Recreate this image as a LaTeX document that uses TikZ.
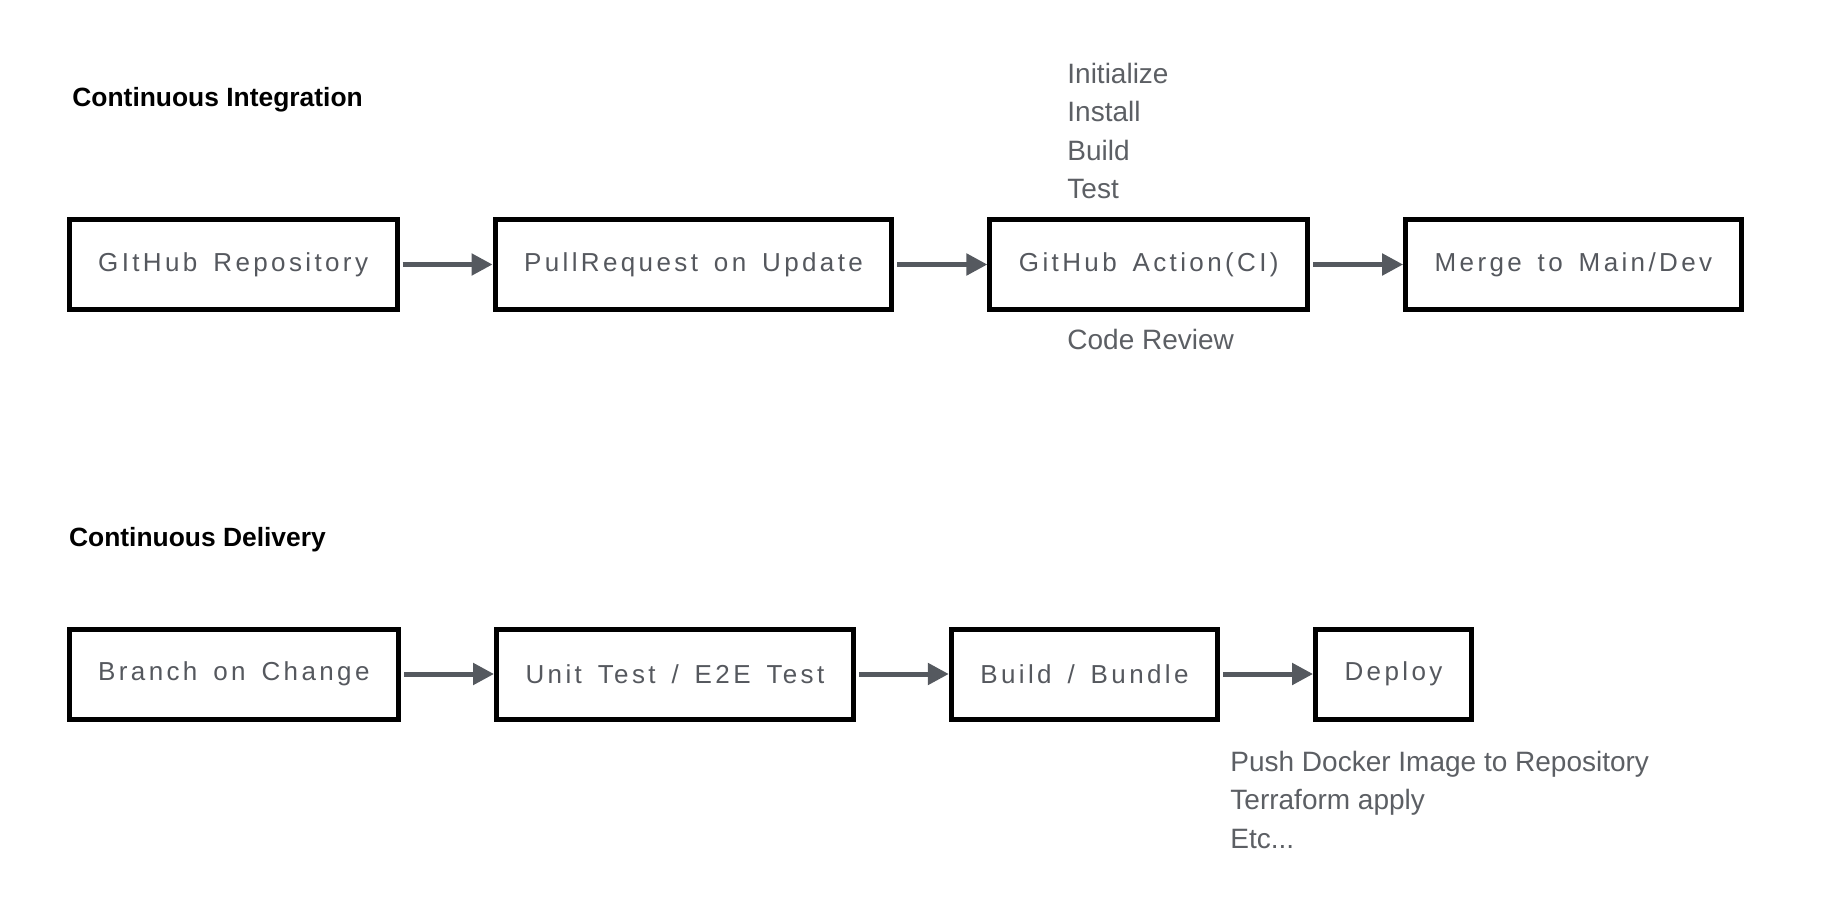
\documentclass[tikz,border=0pt]{standalone}
\usepackage{fontspec}
\setmainfont{Liberation Sans}
\newfontfamily\stagefont{Liberation Sans}[LetterSpace=13,WordSpace=1.5]
\usepackage{tikz}
\usetikzlibrary{positioning,arrows.meta}
\definecolor{stagetext}{HTML}{55585E}
\definecolor{flowgray}{HTML}{55595F}
\definecolor{notegray}{HTML}{5C5F64}

\begin{document}
\begin{tikzpicture}[x=0.5pt,y=-0.5pt,node distance=46.5pt,
    stage/.style={draw=black,line width=2.5pt,minimum height=45pt,inner xsep=14.5pt,text=stagetext,font=\stagefont\fontsize{13pt}{15pt}\selectfont},
    flow/.style={-{Triangle[length=10.5pt,width=10.5pt]},draw=flowgray,line width=2.5pt,shorten <=1.5pt},
    note/.style={align=left,inner sep=0pt,text=notegray,font=\fontsize{14pt}{19.25pt}\selectfont},
    heading/.style={inner sep=0pt,font=\bfseries\fontsize{13.2pt}{15pt}\selectfont}]
    \useasboundingbox (0,0) rectangle (1824,924);

    % continuous integration
    \node[heading,anchor=base west] (ci) at (72,106.7) {Continuous Integration};
    \node[stage,anchor=west] (repo) at (66.7,264.5) {GItHub Repository};
    \node[stage] (pr) [right=of repo] {PullRequest on Update};
    \node[stage] (action) [right=of pr] {GitHub Action(CI)};
    \node[stage] (merge) [right=of action] {Merge to Main/Dev};
    \node[note,anchor=base west] (steps) at (1067,199) {Initialize\\Install\\Build\\Test};
    \node[note,anchor=base west] (review) at (1067,350) {Code Review};

    % continuous delivery
    \node[heading,anchor=base west] (cd) at (68.7,546) {Continuous Delivery};
    \node[stage,anchor=west] (branch) at (66.7,674) {Branch on Change};
    \node[stage] (tests) [right=of branch] {Unit Test / E2E Test};
    \node[stage] (bundle) [right=of tests] {Build / Bundle};
    \node[stage] (deploy) [right=of bundle] {Deploy};
    \node[note,anchor=base west] (push) at (1230,848.3) {Push Docker Image to Repository\\Terraform apply\\Etc...};

    % arrows
    \draw[flow] (repo) -- (pr);
    \draw[flow] (pr) -- (action);
    \draw[flow] (action) -- (merge);
    \draw[flow] (branch) -- (tests);
    \draw[flow] (tests) -- (bundle);
    \draw[flow] (bundle) -- (deploy);
\end{tikzpicture}
\end{document}
